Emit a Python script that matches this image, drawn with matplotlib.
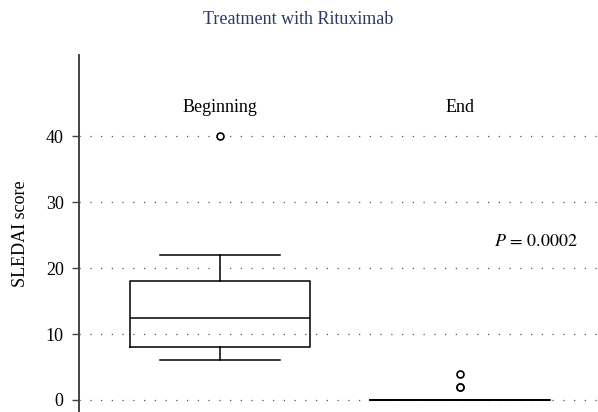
import numpy as np
import matplotlib.pyplot as plt

plt.rcParams['font.family'] = ['Liberation Serif', 'DejaVu Serif']
plt.rcParams['mathtext.fontset'] = 'stix'

groups = ['Beginning', 'End']
medians = [12.5, 0]
q1s = [8, 0]
q3s = [18, 0]
whis_lo = [6, 0]
whis_hi = [22, 0]
outliers = [[40], [2, 2, 4]]
yticks = [0, 10, 20, 30, 40]
p_text = '$P\\,=\\,0.0002$'
title = 'Treatment with Rituximab'

stats = []
for i, g in enumerate(groups):
    stats.append(dict(label=g, med=medians[i], q1=q1s[i], q3=q3s[i],
                      whislo=whis_lo[i], whishi=whis_hi[i], fliers=outliers[i]))

fig = plt.figure(figsize=(5.98, 4.12), dpi=100)
ax = fig.add_axes([79/598, 0, 1 - 79/598, 357/412])

ax.bxp(stats, positions=[1, 2], widths=0.75, capwidths=0.5, showfliers=True,
       boxprops=dict(color='black', lw=1.1),
       medianprops=dict(color='black', lw=1.1),
       whiskerprops=dict(color='black', lw=1.1),
       capprops=dict(color='black', lw=1.1),
       flierprops=dict(marker='o', markerfacecolor='white', markeredgecolor='black',
                       markersize=5, markeredgewidth=1.2))

for y in yticks:
    ax.axhline(y, color='#555555', lw=0.9, ls=(0, (1, 7.6)), zorder=0)

ax.set_xlim(0.4125, 2.575)
ax.set_ylim(-1.82, 52.3)
ax.set_yticks(yticks)
ax.set_xticks([])

for s in ['top', 'right', 'bottom']:
    ax.spines[s].set_visible(False)
ax.spines['left'].set_color('#444444')
ax.spines['left'].set_linewidth(1.4)
ax.tick_params(axis='y', direction='out', length=5, width=1, color='#444444',
               labelsize=13, pad=6)

for i, g in enumerate(groups):
    ax.text(i + 1, 44.4, g, ha='center', va='center', fontsize=13)

ax.text(2.49, 24, p_text, ha='right', va='center', fontsize=13)
ax.set_ylabel('SLEDAI score', fontsize=13, labelpad=12)

fig.text(298/598, 1 - 19/412, title, ha='center', va='center',
         fontsize=13, color='#2b3a67')

fig.savefig('out.png', dpi=100)
